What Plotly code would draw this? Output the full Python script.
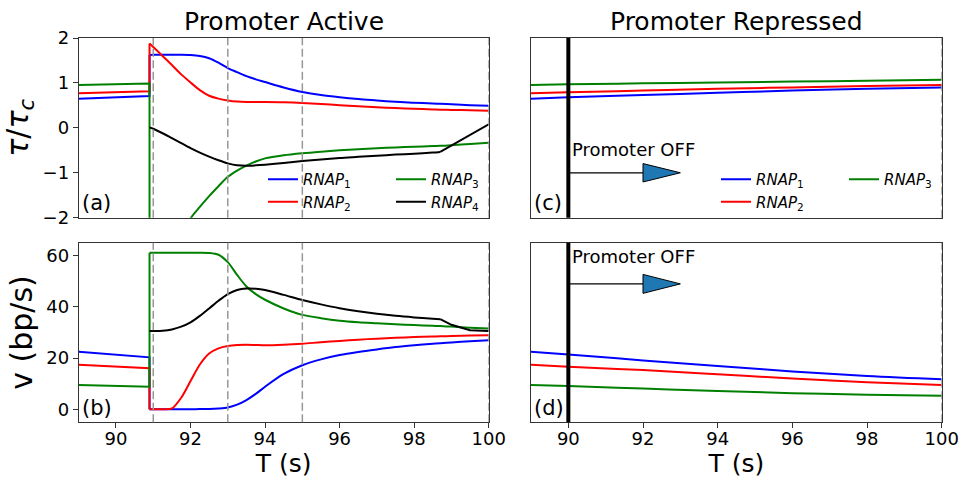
import plotly.graph_objects as go
from plotly.subplots import make_subplots

# ---------------- data ----------------
# time grids (s)
T_PRE = [89.0, 89.5, 90.0, 90.5, 90.9]
T_POST = [90.9, 91.0, 91.25, 91.5, 91.75, 92.0, 92.25, 92.5, 92.75, 93.0,
          93.25, 93.5, 93.75, 94.0, 94.5, 95.0, 95.5, 96.0, 96.5, 97.0,
          97.5, 98.0, 98.5, 98.7, 99.0, 99.5, 100.0]
T_OFF = [89.0, 90.0, 92.0, 94.0, 96.0, 98.0, 100.0]
KINK_T = 98.7   # RNAP4 reaches the end of the gene

# torque ratio tau/tau_c, promoter active
TAU_PRE_1 = [0.65, 0.665, 0.68, 0.695, 0.71]
TAU_PRE_2 = [0.77, 0.782, 0.794, 0.805, 0.815]
TAU_PRE_3 = [0.955, 0.963, 0.971, 0.978, 0.985]
TAU_POST_1 = [1.62, 1.625, 1.625, 1.625, 1.625, 1.62, 1.60, 1.55, 1.45, 1.33,
              1.24, 1.15, 1.08, 1.02, 0.90, 0.80, 0.73, 0.68, 0.64, 0.61,
              0.58, 0.56, 0.54, 0.535, 0.525, 0.505, 0.49]
TAU_POST_2 = [1.88, 1.80, 1.60, 1.40, 1.19, 1.01, 0.84, 0.715, 0.65, 0.61,
              0.585, 0.575, 0.575, 0.575, 0.57, 0.555, 0.53, 0.505, 0.48, 0.46,
              0.44, 0.425, 0.41, 0.405, 0.40, 0.39, 0.38]
TAU_POST_3 = [-6.0, -5.4, -4.2, -3.3, -2.6, -2.02, -1.76, -1.52, -1.30, -1.09,
              -0.95, -0.84, -0.75, -0.68, -0.61, -0.565, -0.53, -0.50, -0.475, -0.455,
              -0.435, -0.42, -0.405, -0.40, -0.385, -0.36, -0.33]
TAU_POST_4 = [0.01, -0.02, -0.12, -0.23, -0.34, -0.45, -0.55, -0.64, -0.72, -0.79,
              -0.835, -0.845, -0.835, -0.82, -0.78, -0.74, -0.705, -0.67, -0.645, -0.62,
              -0.595, -0.575, -0.55, -0.535, -0.39, -0.15, 0.08]

# velocity v (bp/s), promoter active
V_PRE_1 = [22.5, 21.9, 21.4, 20.8, 20.3]
V_PRE_2 = [17.4, 17.0, 16.65, 16.3, 16.0]
V_PRE_3 = [9.5, 9.3, 9.1, 8.95, 8.8]
V_POST_1 = [0.0, 0.0, 0.0, 0.0, 0.0, 0.0, 0.05, 0.1, 0.3, 0.7,
            1.8, 3.6, 6.0, 8.8, 13.8, 17.2, 19.5, 21.2, 22.4, 23.4,
            24.3, 25.0, 25.6, 25.8, 26.1, 26.6, 27.0]
V_POST_2 = [0.0, 0.0, 0.0, 0.3, 4.5, 11.0, 17.5, 21.8, 23.8, 24.7,
            25.1, 25.2, 25.1, 25.0, 25.2, 25.6, 26.2, 26.7, 27.2, 27.6,
            27.9, 28.2, 28.4, 28.5, 28.6, 28.8, 28.9]
V_POST_3 = [61.2, 61.2, 61.2, 61.2, 61.2, 61.2, 61.2, 61.1, 60.4, 57.5,
            52.5, 48.0, 45.0, 42.8, 39.4, 36.9, 35.6, 34.6, 34.0, 33.6,
            33.2, 32.9, 32.6, 32.5, 32.3, 31.9, 31.6]
V_POST_4 = [30.6, 30.6, 30.7, 31.2, 32.3, 34.0, 36.5, 39.4, 42.4, 45.0,
            46.6, 47.2, 47.1, 46.6, 44.7, 42.7, 41.0, 39.5, 38.3, 37.3,
            36.5, 35.9, 35.4, 35.2, 33.0, 30.9, 30.6]

# promoter repressed
TAU_OFF_1 = [0.65, 0.68, 0.73, 0.78, 0.83, 0.87, 0.90]
TAU_OFF_2 = [0.77, 0.79, 0.83, 0.87, 0.90, 0.93, 0.955]
TAU_OFF_3 = [0.955, 0.97, 0.99, 1.01, 1.03, 1.05, 1.07]
V_OFF_1 = [22.5, 21.4, 19.1, 16.9, 14.8, 13.0, 11.7]
V_OFF_2 = [17.4, 16.6, 15.3, 13.7, 12.0, 10.6, 9.5]
V_OFF_3 = [9.5, 9.1, 8.1, 7.1, 6.3, 5.7, 5.3]

NAMES = ["<i>RNAP</i><sub>1</sub>", "<i>RNAP</i><sub>2</sub>",
         "<i>RNAP</i><sub>3</sub>", "<i>RNAP</i><sub>4</sub>"]
COLORS = ["#0000ff", "#ff0000", "#008000", "#000000"]

MARK_TIMES = [91, 93, 95, 100]     # dashed guides, active promoter
OFF_TIME = 90.0                     # promoter switched off
ARROW_END = 92.0                    # end of arrow tail
ARROW_TIP = 93.0                    # arrow tip
ARROW_TAU, ARROW_TAU_HW = -1.0, 0.205
ARROW_V, ARROW_V_HW = 49.0, 3.7
OFF_LABEL_TAU, OFF_LABEL_V = -0.49, 59.6

FONT = "DejaVu Sans"
W, H = 962, 480
LW = 2

fig = make_subplots(rows=2, cols=2)
# axes: (a) x/y, (c) x2/y2, (b) x3/y3, (d) x4/y4


def add_switch_series(row, pre, post, i, legend=None):
    """Pre-switch segment (with the jump at the switch) plus smooth post segment."""
    color = COLORS[i]
    fig.add_trace(go.Scatter(x=T_PRE + [T_POST[0]], y=pre + [post[0]], mode="lines",
                             showlegend=False, hoverinfo="skip",
                             line=dict(color=color, width=LW)), row=row, col=1)
    fig.add_trace(go.Scatter(x=T_POST, y=post, mode="lines", name=NAMES[i],
                             showlegend=legend is not None, legend=legend or "legend",
                             line=dict(color=color, width=LW, shape="spline", smoothing=0.8)),
                  row=row, col=1)


def add_rnap4(row, post, legend=None):
    k = T_POST.index(KINK_T)
    fig.add_trace(go.Scatter(x=T_POST[:k + 1], y=post[:k + 1], mode="lines", name=NAMES[3],
                             showlegend=legend is not None, legend=legend or "legend",
                             line=dict(color=COLORS[3], width=LW, shape="spline", smoothing=0.8)),
                  row=row, col=1)
    fig.add_trace(go.Scatter(x=T_POST[k:], y=post[k:], mode="lines", showlegend=False,
                             hoverinfo="skip", line=dict(color=COLORS[3], width=LW)),
                  row=row, col=1)


# (a) tau, promoter active
add_switch_series(1, TAU_PRE_1, TAU_POST_1, 0, "legend")
add_switch_series(1, TAU_PRE_2, TAU_POST_2, 1, "legend")
add_switch_series(1, TAU_PRE_3, TAU_POST_3, 2, "legend2")
add_rnap4(1, TAU_POST_4, "legend2")

# (b) velocity, promoter active
add_switch_series(2, V_PRE_1, V_POST_1, 0)
add_switch_series(2, V_PRE_2, V_POST_2, 1)
add_switch_series(2, V_PRE_3, V_POST_3, 2)
add_rnap4(2, V_POST_4)

# (c) tau, promoter repressed
for i, y in enumerate([TAU_OFF_1, TAU_OFF_2, TAU_OFF_3]):
    fig.add_trace(go.Scatter(x=T_OFF, y=y, mode="lines", name=NAMES[i],
                             line=dict(color=COLORS[i], width=LW, shape="spline"),
                             legend="legend3" if i < 2 else "legend4"), row=1, col=2)

# (d) velocity, promoter repressed
for i, y in enumerate([V_OFF_1, V_OFF_2, V_OFF_3]):
    fig.add_trace(go.Scatter(x=T_OFF, y=y, mode="lines", showlegend=False,
                             line=dict(color=COLORS[i], width=LW, shape="spline")),
                  row=2, col=2)

# "Promoter OFF" arrows: thin tail + filled triangular head
for (r, ya, hw) in [(1, ARROW_TAU, ARROW_TAU_HW), (2, ARROW_V, ARROW_V_HW)]:
    fig.add_trace(go.Scatter(x=[OFF_TIME, ARROW_END], y=[ya, ya], mode="lines",
                             showlegend=False, hoverinfo="skip",
                             line=dict(color="black", width=1.2)), row=r, col=2)
    fig.add_trace(go.Scatter(x=[ARROW_END, ARROW_TIP, ARROW_END, ARROW_END],
                             y=[ya - hw, ya, ya + hw, ya - hw], mode="lines",
                             fill="toself", fillcolor="#1f77b4", showlegend=False,
                             hoverinfo="skip", line=dict(color="black", width=1)),
                  row=r, col=2)

# ---------------- layout ----------------
XL = [78.7 / W, 488.7 / W]
XR = [531.0 / W, 941.7 / W]
YT = [1 - 217.7 / H, 1 - 38.0 / H]
YB = [1 - 422.3 / H, 1 - 242.7 / H]

axis_common = dict(showline=True, linecolor="#333333", linewidth=1, mirror=True,
                   showgrid=False, zeroline=False, ticks="outside", ticklen=5,
                   tickwidth=1, tickcolor="#333333", automargin=False,
                   tickfont=dict(family=FONT, size=18, color="black"))

xticks = dict(range=[89, 100], tickvals=[90, 92, 94, 96, 98, 100])
xtitle = dict(text="T (s)", font=dict(family=FONT, size=25, color="black"), standoff=0)
fig.update_layout(
    xaxis=dict(axis_common, domain=XL, **xticks, showticklabels=False, ticks=""),
    xaxis2=dict(axis_common, domain=XR, **xticks, showticklabels=False, ticks=""),
    xaxis3=dict(axis_common, domain=XL, **xticks, title=xtitle, ticklabelstandoff=-5),
    xaxis4=dict(axis_common, domain=XR, **xticks, title=xtitle, ticklabelstandoff=-5),
    yaxis=dict(axis_common, domain=YT, range=[-2, 2], tickvals=[-2, -1, 0, 1, 2],
               title=dict(text="<i>τ</i>/<i>τ</i><sub><i>c</i></sub>",
                          font=dict(family=FONT, size=30, color="black"), standoff=6)),
    yaxis2=dict(axis_common, domain=YT, range=[-2, 2], showticklabels=False, ticks=""),
    yaxis3=dict(axis_common, domain=YB, range=[-5.1, 65.1], tickvals=[0, 20, 40, 60],
                title=dict(text="v (bp/s)", font=dict(family=FONT, size=30, color="black"),
                           standoff=4)),
    yaxis4=dict(axis_common, domain=YB, range=[-5.1, 65.1], showticklabels=False, ticks=""),
)

# guide lines
GUIDE = dict(color="rgb(150,150,150)", width=1.5, dash="8px,3.5px")
shapes = []
for t in MARK_TIMES:
    for xr, yr in [("x", "y domain"), ("x3", "y3 domain")]:
        shapes.append(dict(type="line", xref=xr, yref=yr, x0=t, x1=t, y0=0, y1=1,
                           line=GUIDE, layer="above"))
for xr, yr in [("x2", "y2 domain"), ("x4", "y4 domain")]:
    shapes.append(dict(type="line", xref=xr, yref=yr, x0=100, x1=100, y0=0, y1=1,
                       line=GUIDE, layer="above"))
    shapes.append(dict(type="line", xref=xr, yref=yr, x0=OFF_TIME, x1=OFF_TIME, y0=0, y1=1,
                       line=dict(color="black", width=4), layer="above"))

annotations = [
    dict(text="Promoter Active", xref="paper", yref="paper", x=sum(XL) / 2, y=1 - 22 / H,
         xanchor="center", yanchor="middle", showarrow=False,
         font=dict(family=FONT, size=25, color="black")),
    dict(text="Promoter Repressed", xref="paper", yref="paper", x=sum(XR) / 2, y=1 - 22 / H,
         xanchor="center", yanchor="middle", showarrow=False,
         font=dict(family=FONT, size=25, color="black")),
]
for lab, xr, yr in [("(a)", "x domain", "y domain"), ("(b)", "x3 domain", "y3 domain"),
                    ("(c)", "x2 domain", "y2 domain"), ("(d)", "x4 domain", "y4 domain")]:
    annotations.append(dict(text=lab, xref=xr, yref=yr, x=0.003, y=0.08,
                            xanchor="left", yanchor="middle", showarrow=False,
                            font=dict(family=FONT, size=21, color="black")))
for xr, yr, yv in [("x2", "y2", OFF_LABEL_TAU), ("x4", "y4", OFF_LABEL_V)]:
    annotations.append(dict(text="Promoter OFF", xref=xr, yref=yr, x=OFF_TIME + 0.05,
                            y=yv, xanchor="left", yanchor="middle", showarrow=False,
                            font=dict(family=FONT, size=18, color="black")))

leg_common = dict(orientation="v", xanchor="left", yanchor="top",
                  bgcolor="rgba(0,0,0,0)", borderwidth=0,
                  font=dict(family=FONT, size=15, color="black"))
LEG_TOP = 1 - 163 / H
fig.update_layout(
    legend=dict(leg_common, x=263 / W, y=LEG_TOP),
    legend2=dict(leg_common, x=391 / W, y=LEG_TOP),
    legend3=dict(leg_common, x=716 / W, y=LEG_TOP),
    legend4=dict(leg_common, x=844 / W, y=LEG_TOP),
    shapes=shapes,
    annotations=annotations,
    width=W, height=H,
    margin=dict(l=0, r=0, t=0, b=0, autoexpand=False),
    plot_bgcolor="white", paper_bgcolor="white",
    font=dict(family=FONT, color="black"),
)

fig.write_html("out.html")
